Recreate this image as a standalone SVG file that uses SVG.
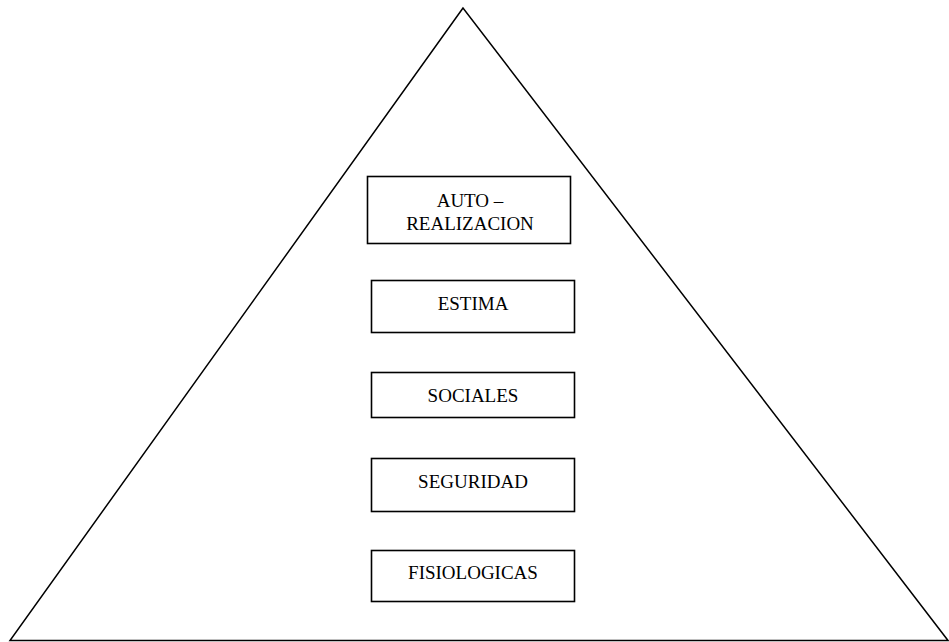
<svg xmlns="http://www.w3.org/2000/svg" width="949" height="642" viewBox="0 0 949 642">
<style>
.box{fill:#fff;stroke:#000;stroke-width:1.6}
.t{font-family:"Liberation Serif","Times New Roman",serif;font-size:19px;fill:#000;text-anchor:middle}
</style>
<rect width="949" height="642" fill="#fff"/>
<g id="piramide">
<polygon points="463,8 10,640.5 948,640.5" fill="none" stroke="#000" stroke-width="1.5"/>
</g>
<g id="auto-realizacion">
<rect class="box" x="367.5" y="176.5" width="203" height="67"/>
<text class="t" x="470" y="207">AUTO –</text>
<text class="t" x="470" y="230">REALIZACION</text>
</g>
<g id="estima">
<rect class="box" x="371.5" y="280.5" width="203" height="52"/>
<text class="t" x="473" y="310">ESTIMA</text>
</g>
<g id="sociales">
<rect class="box" x="371.5" y="372.5" width="203" height="45"/>
<text class="t" x="473" y="402">SOCIALES</text>
</g>
<g id="seguridad">
<rect class="box" x="371.5" y="458.5" width="203" height="53"/>
<text class="t" x="473" y="488">SEGURIDAD</text>
</g>
<g id="fisiologicas">
<rect class="box" x="371.5" y="550.5" width="203" height="51"/>
<text class="t" x="473" y="579">FISIOLOGICAS</text>
</g>
<g id="connectors"></g>
</svg>
